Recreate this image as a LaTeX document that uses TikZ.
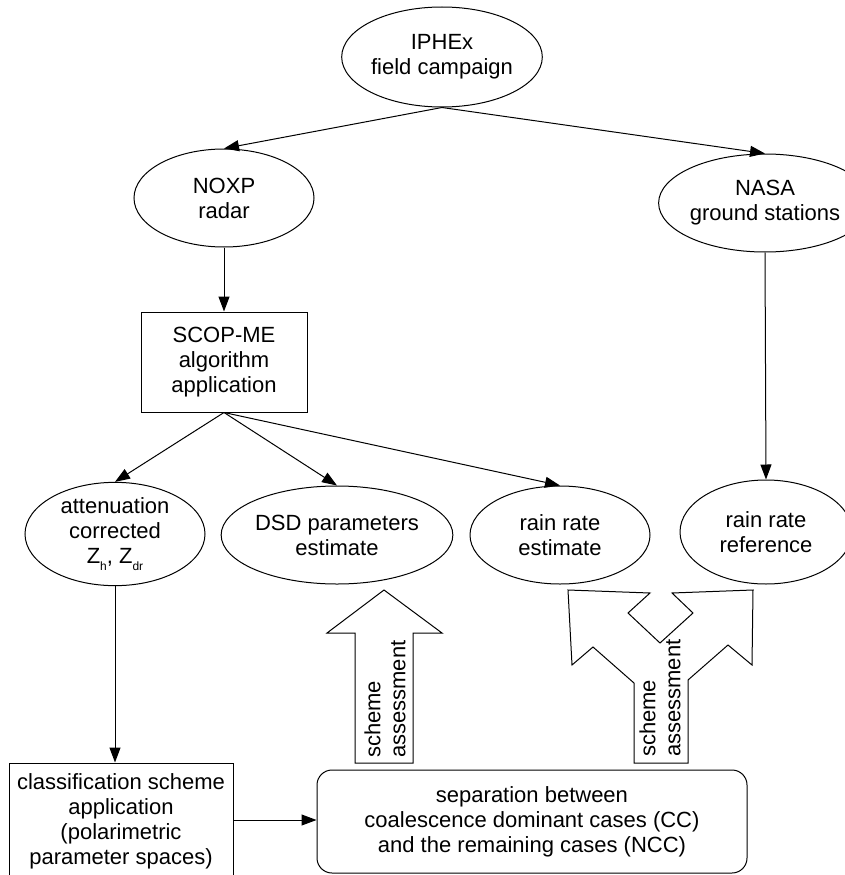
\documentclass[tikz,border=0pt]{standalone}
\usepackage{fontspec}
\setmainfont{Liberation Sans}
\usetikzlibrary{arrows.meta,shapes.geometric}
\newcommand{\lowsub}[1]{\raisebox{-7pt}{\fontsize{12pt}{12pt}\selectfont #1}}
\begin{document}
\begin{tikzpicture}[x=1pt,y=-1pt,
  every node/.style={font=\fontsize{22pt}{25pt}\selectfont, align=center, inner sep=0pt},
  oval/.style={draw, line width=1pt, ellipse},
  boxnode/.style={draw, line width=1pt, rectangle},
  conn/.style={draw, line width=1pt, -{Triangle[length=15pt,width=11pt]}},
  bigarrow/.style={draw, line width=1pt, line join=miter},
  rottext/.style={rotate=90, anchor=west, align=left, inner sep=0pt}]
\useasboundingbox (0,0) rectangle (845,875);

\node[oval, minimum width=178pt, minimum height=100pt] (ipx) at (442,57) {IPHEx\\field campaign};
\node[oval, minimum width=180pt, minimum height=98pt] (noxp) at (224,198) {NOXP\\radar};
\node[oval, minimum width=174pt, minimum height=98pt] (nasa) at (765,203) {NASA\\ground stations};
\node[boxnode, minimum width=166pt, minimum height=100pt] (scop) at (224,362) {SCOP-ME\\algorithm\\application};
\node[oval, minimum width=180pt, minimum height=98pt] (att) at (115,534) {attenuation\\corrected\\Z\lowsub{h}, Z\lowsub{dr}};
\node[oval, minimum width=184pt, minimum height=98pt] (dsd) at (337,535) {DSD parameters\\estimate};
\node[oval, minimum width=180pt, minimum height=98pt] (rre) at (560,535) {rain rate\\estimate};
\node[oval, minimum width=172pt, minimum height=104pt] (rref) at (766,532) {rain rate\\reference};
\node[boxnode, minimum width=224pt, minimum height=117pt] (cls) at (121,821.5) {classification scheme\\application\\(polarimetric\\parameter spaces)};
\node[boxnode, rounded corners=15pt, minimum width=430pt, minimum height=103pt] (sep) at (532,821.5) {separation between\\coalescence dominant cases (CC)\\and the remaining cases (NCC)};

\draw[conn] (ipx.south) -- (noxp.north);
\draw[conn] (ipx.south) -- (nasa.north);
\draw[conn] (noxp.south) -- (scop.north);
\draw[conn] (scop.south) -- (att.north);
\draw[conn] (scop.south) -- (dsd.north);
\draw[conn] (scop.south) -- (rre.north);
\draw[conn] (nasa.south) -- (rref.north);
\draw[conn] (att.south) -- (att.south |- cls.north);
\draw[conn] (cls.east |- 0,820) -- (sep.west |- 0,820);

% single block arrow
\draw[bigarrow] (355,763) -- (355,633) -- (327,633) -- (384,590) -- (442,633) -- (413,633) -- (413,763) -- cycle;
\node[rottext] (t1) at (385,758) {scheme\\assessment};

% split block arrow
\draw[bigarrow] (634,763) -- (634,683) -- (593,647) -- (572,665) -- (568,590) -- (650,593) -- (628,613) -- (660,643) -- (693,613) -- (672,593) -- (753,590) -- (752,665) -- (728,645) -- (688,680) -- (688,763) -- cycle;
\node[rottext] (t2) at (660,757) {scheme\\assessment};
\end{tikzpicture}
\end{document}
